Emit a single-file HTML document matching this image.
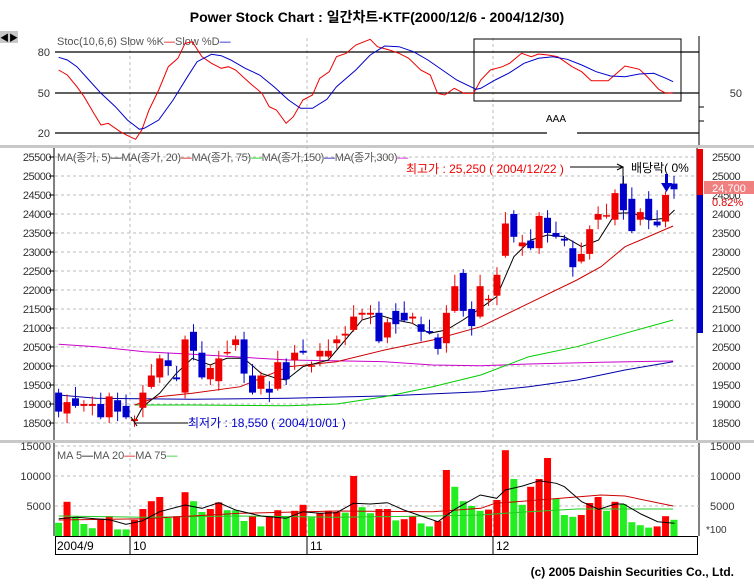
<!DOCTYPE html>
<html><head><meta charset="utf-8"><style>
body{margin:0;background:#fff;width:754px;height:588px;overflow:hidden}
svg{display:block}
text{font-family:"Liberation Sans","Noto Sans CJK KR",sans-serif}
</style></head><body>
<svg id="s" width="754" height="588" xmlns="http://www.w3.org/2000/svg"></svg>
<script>
const S=document.getElementById('s');let h='';
function X(i){return 58.6+i*8.43}
function PY(p){return 157+(25500-p)*0.038}
function zx(x){return x/2.08}
// title
h+='<text x="377" y="22" text-anchor="middle" font-size="14" font-weight="bold" fill="#000">Power Stock Chart : 일간차트-KTF(2000/12/6 - 2004/12/30)</text>';
h+='<rect x="0" y="31" width="18" height="12" fill="#c8c8c8"/><text x="9" y="41" text-anchor="middle" font-size="9" fill="#000">◀▶</text>';
// separators
h+='<rect x="0" y="145" width="754" height="3" fill="#c8c8c8"/><rect x="0" y="440" width="754" height="3" fill="#c8c8c8"/>';
// vertical dashed grid
[130,307,493].forEach(x=>{h+=`<line x1="${x}" y1="38" x2="${x}" y2="536" stroke="#bbb" stroke-dasharray="3,3"/>`});
// stoch panel
h+='<line x1="699" y1="36" x2="699" y2="145" stroke="#000"/>';
[[52,'80'],[93,'50']].forEach(a=>{h+=`<line x1="55" y1="${a[0]}" x2="699" y2="${a[0]}" stroke="#000" stroke-width="1.3"/><text x="50" y="${a[0]+4}" text-anchor="end" font-size="11" fill="#333">${a[1]}</text>`});
h+='<line x1="55" y1="133" x2="547" y2="133" stroke="#000" stroke-width="1.3"/><line x1="577" y1="133" x2="699" y2="133" stroke="#000" stroke-width="1.3"/><text x="50" y="137" text-anchor="end" font-size="11" fill="#333">20</text>';
h+='<text x="742" y="97" text-anchor="end" font-size="11" fill="#333">50</text>';
[107,121].forEach(y=>{h+=`<line x1="699" y1="${y}" x2="704" y2="${y}" stroke="#000"/>`});
h+='<rect x="474" y="39" width="207" height="62" fill="none" stroke="#000"/>';
h+='<text x="556" y="122" text-anchor="middle" font-size="10" fill="#000">AAA</text>';
h+='<text x="57" y="45" font-size="11" fill="#555">Stoc(10,6,6) Slow %K<tspan fill="#d00">—</tspan>Slow %D<tspan fill="#00c">—</tspan></text>';
const sk=[[122,210],[140,225],[160,260],[175,290],[195,340],[210,375],[225,370],[250,395],[270,410],[282,418],[295,390],[310,330],[330,270],[350,200],[370,175],[385,130],[400,125],[420,170],[440,190],[460,205],[475,200],[490,210],[520,250],[545,280],[560,320],[575,330],[595,370],[610,350],[630,300],[650,285],[665,235],[685,215],[700,170],[720,160],[740,135],[770,118],[785,140],[810,150],[830,160],[850,175],[875,210],[895,225],[910,280],[925,285],[945,265],[965,280],[985,280],[1000,240],[1020,210],[1045,200],[1060,190],[1085,160],[1105,170],[1120,162],[1140,165],[1160,170],[1190,200],[1210,215],[1230,242],[1265,242],[1300,198],[1330,208],[1345,228],[1370,268],[1385,280],[1400,278]];
const sd=[[122,172],[140,180],[160,200],[185,240],[210,280],[240,320],[265,360],[290,388],[300,385],[330,360],[360,300],[390,230],[410,185],[440,163],[460,167],[480,180],[510,205],[540,225],[570,260],[600,300],[625,325],[650,325],[680,298],[700,260],[740,210],[770,165],[800,138],[830,140],[860,155],[890,180],[920,210],[950,240],[990,268],[1000,265],[1030,240],[1060,218],[1090,190],[1120,175],[1150,170],[1180,178],[1210,195],[1240,215],[1270,228],[1300,230],[1330,222],[1360,220],[1385,235],[1400,245]];
function pl(a,c,f){return `<polyline fill="none" stroke="${c}" stroke-width="1" points="${a.map(p=>f(p).join(',')).join(' ')}"/>`}
h+=pl(sk,'#e00',p=>[zx(p[0]).toFixed(1),(p[1]/3).toFixed(1)]);
h+=pl(sd,'#00c',p=>[zx(p[0]).toFixed(1),(p[1]/3).toFixed(1)]);
// price panel
h+='<line x1="54" y1="148" x2="54" y2="440" stroke="#000"/><line x1="697" y1="148" x2="697" y2="440" stroke="#000"/>';
for(let p=18500;p<=25500;p+=500){const y=PY(p).toFixed(1);
 h+=`<line x1="55" y1="${y}" x2="697" y2="${y}" stroke="#bbb" stroke-dasharray="3,3"/>`;
 h+=`<text x="51" y="${+y+4}" text-anchor="end" font-size="11" fill="#333" letter-spacing="-0.5">${p}</text>`;
 h+=`<text x="712" y="${+y+4}" font-size="11" fill="#333" letter-spacing="-0.5">${p}</text>`;
 h+=`<line x1="49" y1="${y}" x2="54" y2="${y}" stroke="#000"/>`;}
h+='<rect x="697" y="149" width="6" height="46" fill="#e00"/><rect x="697" y="195" width="6" height="138" fill="#00c"/>';
h+='<rect x="704" y="181" width="50" height="13" fill="#f08080"/><text x="729" y="192" text-anchor="middle" font-size="11" fill="#fff">24,700</text>';
h+='<text x="712" y="206" font-size="11" fill="#d00">0.82%</text>';
const mp=(a,c)=>pl(a,c,p=>[zx(p[0]).toFixed(1),(p[1]/3+140).toFixed(1)]);
h+=mp([[122,613],[200,620],[300,635],[400,643],[600,660],[800,665],[900,675],[1000,677],[1100,672],[1250,667],[1400,663]],'#c0c');
h+=mp([[122,765],[200,775],[400,778],[600,775],[800,768],[1000,755],[1100,740],[1200,720],[1300,690],[1400,665]],'#00a');
h+=mp([[280,795],[400,795],[600,797],[700,792],[800,770],[900,740],[1000,705],[1100,650],[1200,620],[1300,580],[1400,540]],'#0c0');
h+=mp([[280,795],[330,770],[400,760],[500,740],[600,680],[700,665],[800,630],[900,600],[1000,560],[1100,490],[1200,420],[1250,380],[1300,320],[1400,258]],'#c00');
h+=mp([[280,845],[297,800],[332,760],[367,700],[400,655],[437,675],[472,655],[507,655],[543,700],[575,715],[595,720],[630,680],[683,660],[718,600],[753,540],[788,525],[823,540],[858,550],[893,580],[928,570],[963,540],[999,505],[1033,470],[1069,350],[1104,300],[1139,285],[1174,290],[1210,320],[1245,300],[1280,220],[1315,218],[1350,240],[1385,235],[1403,210]],'#000');
const C=[[19300,18800],[18750,19050],[19150,18950],[18950,19000],[18950,19000],[19000,18650],[18650,19200],[19100,18800],[18950,18650],[18550,18600],[18900,19300],[19450,19750],[19700,20200],[20150,20000],[19700,19650],[19300,20700],[20900,20400],[20350,19700],[19650,19950],[19600,20200],[20330,20370],[20550,20700],[20700,19800],[19750,19300],[19400,19750],[19400,19300],[19400,20100],[20100,19650],[20150,20350],[20400,20350],[19980,20020],[20250,20400],[20250,20400],[20600,20700],[20800,20850],[20950,21300],[21350,21400],[21350,21400],[21400,20650],[20750,21150],[21450,21100],[21400,21200],[21250,21300],[21100,20900],[20920,20880],[20750,20450],[20600,21400],[21450,22100],[22450,21450],[21500,21050],[21300,22100],[21730,21770],[21850,22400],[22900,23750],[24000,23400],[23150,23250],[23300,23100],[23100,23950],[23900,23500],[23500,23400],[23350,23300],[23100,22600],[22750,22950],[22950,23600],[23850,24000],[23930,23970],[23850,24550],[24800,24100],[24400,23550],[23850,24050],[24400,23850],[23800,23700],[23800,24500],[24800,24650]];
C.forEach((c,i)=>{const up=c[1]>=c[0];const col=up?'#e00':'#00c';const x=X(i);
 const hi=Math.max(...c)+(i%3)*100+100,lo=Math.min(...c)-((i+1)%3)*100-50;
 h+=`<line x1="${x}" y1="${PY(hi)}" x2="${x}" y2="${PY(lo)}" stroke="${col}"/>`;
 const t=PY(Math.max(...c)),b=PY(Math.min(...c));
 h+=`<rect x="${x-3.5}" y="${t}" width="7" height="${Math.max(1.5,b-t)}" fill="${col}"/>`;});
h+='<text x="57" y="161" font-size="11" fill="#555" letter-spacing="-0.3">MA(종가, 5)<tspan fill="#000">—</tspan>MA(종가, 20)<tspan fill="#d00">—</tspan>MA(종가, 75)<tspan fill="#0c0">—</tspan>MA(종가,150)<tspan fill="#00a">—</tspan>MA(종가,300)<tspan fill="#c0c">—</tspan></text>';
h+='<text x="406" y="173" font-size="12" fill="#e00">최고가 : 25,250 ( 2004/12/22 )</text>';
h+='<line x1="570" y1="167" x2="623" y2="167" stroke="#000"/><polyline points="617,164 623,167 617,170" fill="none" stroke="#000"/><line x1="623" y1="167" x2="623" y2="184" stroke="#000"/>';
h+='<text x="631" y="172" font-size="12" fill="#000">배당락( 0%</text>';
h+='<polygon points="665,174 668,174 668,183 672,183 666.5,192 661,183 665,183" fill="#00c"/>';
h+='<text x="188" y="427" font-size="12" fill="#00c">최저가 : 18,550 ( 2004/10/01 )</text>';
h+='<line x1="135" y1="423" x2="188" y2="423" stroke="#000"/><line x1="131" y1="417" x2="137" y2="426" stroke="#000"/>';
// volume panel
h+='<line x1="54" y1="443" x2="54" y2="536" stroke="#000"/><line x1="699" y1="443" x2="699" y2="536" stroke="#000"/>';
[[446,'15000'],[476,'10000'],[506,'5000']].forEach(a=>{h+=`<line x1="55" y1="${a[0]}" x2="699" y2="${a[0]}" stroke="#bbb" stroke-dasharray="3,3"/><text x="51" y="${a[0]+4}" text-anchor="end" font-size="11" fill="#333">${a[1]}</text><text x="710" y="${a[0]+4}" font-size="11" fill="#333">${a[1]}</text>`});
h+='<text x="706" y="533" font-size="10" fill="#333">*100</text>';
const V=[[2200,0],[5700,1],[3000,0],[2000,0],[1300,0],[2900,1],[3300,1],[1100,0],[1100,0],[2700,1],[4500,1],[5800,1],[6500,1],[3000,0],[3300,1],[7300,1],[5800,0],[4000,0],[4500,1],[5600,1],[4300,0],[4300,0],[2500,0],[3300,1],[1600,0],[3300,1],[4300,1],[3300,0],[4200,1],[5200,1],[3100,0],[3800,1],[4200,1],[4000,1],[3900,0],[10000,1],[4800,0],[3800,0],[4500,1],[4500,1],[2600,0],[2800,1],[3300,1],[2100,0],[1600,0],[2500,1],[11000,1],[8200,0],[5800,0],[5000,0],[4200,0],[4400,1],[6000,1],[14300,1],[9500,0],[5200,0],[8200,1],[9500,1],[13000,1],[6200,0],[3500,0],[3200,0],[3500,1],[5500,1],[6500,1],[4200,0],[5700,1],[5300,0],[2300,0],[1800,0],[1400,0],[1600,1],[3300,1],[2700,0]];
V.forEach((v,i)=>{const hh=v[0]*0.006;h+=`<rect x="${X(i)-3.5}" y="${536-hh}" width="7" height="${hh}" fill="${v[1]?'#f00':'#2e2'}"/>`});
const vp=(a,c)=>pl(a,c,p=>[zx(p[0]).toFixed(1),(430+p[1]/3).toFixed(1)]);
h+=vp([[122,258],[300,262],[500,258],[700,262],[900,258],[1000,255],[1100,245],[1200,237],[1300,237],[1400,237]],'#2c2');
h+=vp([[122,270],[300,266],[500,250],[700,243],[900,245],[1000,235],[1030,220],[1140,208],[1250,195],[1300,198],[1400,228]],'#c00');
h+=vp([[122,266],[160,262],[230,270],[262,283],[297,272],[332,245],[385,225],[420,235],[455,218],[490,240],[543,258],[595,265],[630,245],[665,250],[700,248],[735,220],[770,222],[806,218],[840,240],[876,258],[911,275],[946,238],[999,195],[1033,205],[1051,180],[1087,168],[1122,152],[1157,160],[1174,170],[1210,215],[1245,238],[1280,222],[1297,222],[1333,252],[1368,275],[1403,280]],'#000');
h+='<text x="57" y="459" font-size="11" fill="#555">MA  5<tspan fill="#000">—</tspan>MA 20<tspan fill="#d00">—</tspan>MA 75<tspan fill="#2c2">—</tspan></text>';
// date axis
h+='<rect x="55.5" y="536.5" width="642" height="18" fill="none" stroke="#000"/>';
[130,307,493].forEach(x=>{h+=`<line x1="${x}" y1="536" x2="${x}" y2="554" stroke="#000"/>`});
[[57,'2004/9'],[133,'10'],[310,'11'],[496,'12']].forEach(a=>{h+=`<text x="${a[0]}" y="550" font-size="12" fill="#000">${a[1]}</text>`});
h+='<text x="734" y="576" text-anchor="end" font-size="12" font-weight="bold" fill="#000">(c) 2005  Daishin Securities Co., Ltd.</text>';
S.innerHTML=h;
</script>
</body></html>
